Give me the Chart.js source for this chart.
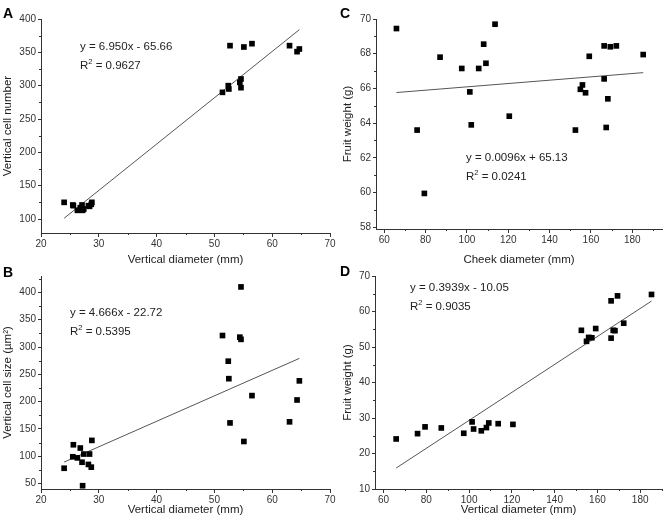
<!DOCTYPE html>
<html>
<head>
<meta charset="utf-8">
<script src="https://cdn.jsdelivr.net/npm/chart.js@4.4.0/dist/chart.umd.min.js"></script>
<style>
  body { margin: 0; background: #fff; width: 666px; height: 526px; position: relative; overflow: hidden;
         font-family: "Liberation Sans", Arial, sans-serif; color: #222; }
  .panel { position: absolute; }
  .letter { position: absolute; font-weight: bold; font-size: 14px; line-height: 14px; color: #000; }
  .eq { position: absolute; font-size: 11.5px; line-height: 15px; white-space: nowrap; color: #222; }
</style>
</head>
<body>
<div class="panel" style="left:0;top:0;width:345px;height:270px"><canvas id="chartA"></canvas></div>
<div class="panel" style="left:333px;top:0;width:333px;height:270px"><canvas id="chartC"></canvas></div>
<div class="panel" style="left:0;top:263px;width:345px;height:263px"><canvas id="chartB"></canvas></div>
<div class="panel" style="left:333px;top:263px;width:333px;height:263px"><canvas id="chartD"></canvas></div>

<div class="letter" style="left:3px;top:6px">A</div>
<div class="letter" style="left:340px;top:6px">C</div>
<div class="letter" style="left:3px;top:265px">B</div>
<div class="letter" style="left:340px;top:264px">D</div>

<div class="eq" id="eqA" style="left:80px;top:39px"></div>
<div class="eq" id="eqB" style="left:70px;top:305px"></div>
<div class="eq" id="eqC" style="left:466px;top:150px"></div>
<div class="eq" id="eqD" style="left:410px;top:280px"></div>

<script>
// ---- data ----
// A and B share the vertical diameter values
const vertDiam = [24.0, 25.5, 25.6, 26.3, 26.8, 27.1, 27.2, 27.4, 28.2, 28.4, 28.7, 28.8,
                  51.4, 52.4, 52.5, 52.7, 54.4, 54.6, 54.6, 55.1, 56.5, 63.0, 64.3, 64.7];
const cellNumber = [125, 121, 120, 113, 117, 121, 113, 115, 120, 119, 122, 125,
                    290, 300, 295, 360, 305, 310, 297, 358, 363, 360, 351, 355];
const cellSize = [78, 99, 121, 97, 115, 89, 46, 104, 85, 104, 80, 129,
                  321, 274, 242, 161, 318, 314, 410, 127, 211, 163, 203, 238];

// C and D share the cheek diameter values
const cheekDiam = [65.9, 75.9, 79.4, 87.0, 97.5, 101.4, 102.1, 105.7, 108.1, 109.2, 113.6, 120.5,
                   152.5, 154.9, 155.9, 157.4, 159.2, 166.4, 166.4, 167.4, 168.2, 169.4, 172.3, 185.3];
const fruitWeightC = [69.45, 63.6, 59.95, 67.8, 67.15, 65.8, 63.9, 67.15, 68.55, 67.45, 69.7, 64.4,
                      63.6, 65.95, 66.2, 65.75, 67.85, 66.55, 68.45, 63.75, 65.4, 68.4, 68.45, 67.95];
const fruitWeightD = [24.1, 25.6, 27.5, 27.2, 25.7, 28.9, 26.9, 26.4, 27.3, 28.6, 28.4, 28.2,
                      54.7, 51.6, 52.7, 52.6, 55.2, 52.5, 63.0, 54.7, 54.6, 64.4, 56.7, 64.8];

// linear fits printed on each panel (A, B, C, D)
const fitSlope = [6.950, 4.666, 0.0096, 0.3939];
const fitIntercept = [-65.66, -22.72, 65.13, -10.05];
const fitText = ['y = 6.950x - 65.66', 'y = 4.666x - 22.72', 'y = 0.0096x + 65.13', 'y = 0.3939x - 10.05'];
const r2Text = ['0.9627', '0.5395', '0.0241', '0.9035'];

// tick labels
const ticksXab = [20, 30, 40, 50, 60, 70];
const minorXab = [25, 35, 45, 55, 65];
const ticksYa = [100, 150, 200, 250, 300, 350, 400];
const minorYa = [125, 175, 225, 275, 325, 375];
const ticksYb = [50, 100, 150, 200, 250, 300, 350, 400];
const minorYb = [75, 125, 175, 225, 275, 325, 375, 425];
const ticksXcd = [60, 80, 100, 120, 140, 160, 180];
const minorXcd = [70, 90, 110, 130, 150, 170, 190];
const ticksYc = [58, 60, 62, 64, 66, 68, 70];
const minorYc = [59, 61, 63, 65, 67, 69];
const ticksYd = [10, 20, 30, 40, 50, 60, 70];
const minorYd = [15, 25, 35, 45, 55, 65];

const FONT = '"Liberation Sans", Arial, sans-serif';
Chart.defaults.font.family = FONT;

// small outward minor ticks like the Origin axes
const minorTicks = {
  id: 'minorTicks',
  afterDraw(chart, args, opts) {
    const { ctx, chartArea, scales } = chart;
    ctx.save();
    ctx.strokeStyle = '#333';
    ctx.lineWidth = 1;
    ctx.beginPath();
    opts.x.forEach(v => {
      const px = Math.round(scales.x.getPixelForValue(v)) + 0.5;
      if (px > chartArea.right + 1) return;
      ctx.moveTo(px, chartArea.bottom);
      ctx.lineTo(px, chartArea.bottom + 2);
    });
    opts.y.forEach(v => {
      const py = Math.round(scales.y.getPixelForValue(v)) + 0.5;
      if (py < chartArea.top - 1) return;
      ctx.moveTo(chartArea.left, py);
      ctx.lineTo(chartArea.left - 2, py);
    });
    ctx.stroke();
    ctx.restore();
  }
};

function makePanel(id, p) {
  const pts = p.xs.map((v, i) => ({ x: v, y: p.ys[i] }));
  const x0 = Math.min(...p.xs), x1 = Math.max(...p.xs);
  const fit = [{ x: x0, y: p.slope * x0 + p.icpt }, { x: x1, y: p.slope * x1 + p.icpt }];

  new Chart(document.getElementById(id), {
    type: 'scatter',
    data: {
      datasets: [
        { data: pts, pointStyle: 'rect', pointRadius: 4, backgroundColor: '#000', borderColor: '#000', borderWidth: 0 },
        { type: 'line', data: fit, borderColor: '#555', borderWidth: 1, pointRadius: 0, fill: false }
      ]
    },
    options: {
      responsive: true,
      maintainAspectRatio: false,
      animation: false,
      layout: { padding: p.pad },
      plugins: { legend: { display: false }, tooltip: { enabled: false }, minorTicks: { x: p.minorX, y: p.minorY } },
      scales: {
        x: {
          type: 'linear', min: p.xMin, max: p.xMax,
          afterBuildTicks: s => { s.ticks = p.ticksX.map(v => ({ value: v })); },
          afterFit: s => { s.height = p.xH; s.paddingLeft = 0; s.paddingRight = 0; },
          grid: { drawOnChartArea: false, drawTicks: true, tickLength: 4, color: '#333' },
          border: { display: true, color: '#333', width: 1 },
          ticks: { color: '#333', font: { size: 10 }, padding: 1, maxRotation: 0, autoSkip: false },
          title: { display: true, text: p.xTitle, color: '#222', font: { size: 11.5 }, padding: { top: 0, bottom: p.xTitlePad } }
        },
        y: {
          type: 'linear', min: p.yMin, max: p.yMax,
          afterBuildTicks: s => { s.ticks = p.ticksY.map(v => ({ value: v })); },
          afterFit: s => { s.width = p.yW; s.paddingTop = 0; s.paddingBottom = 0; },
          grid: { drawOnChartArea: false, drawTicks: true, tickLength: 3, color: '#333' },
          border: { display: true, color: '#333', width: 1 },
          ticks: { color: '#333', font: { size: 10 }, padding: 2, autoSkip: false },
          title: { display: true, text: p.yTitle, color: '#222', font: { size: 11.5 }, padding: { top: p.yTitlePad, bottom: 0 } }
        }
      }
    },
    plugins: [minorTicks]
  });
}

makePanel('chartA', {
  xs: vertDiam, ys: cellNumber, slope: fitSlope[0], icpt: fitIntercept[0],
  xMin: 20, xMax: 70, yMin: 79, yMax: 400,
  ticksX: ticksXab, minorX: minorXab, ticksY: ticksYa, minorY: minorYa,
  xTitle: 'Vertical diameter (mm)', yTitle: 'Vertical cell number',
  pad: { left: 0, top: 19, right: 15, bottom: 0 }, yW: 41, xH: 37, xTitlePad: 3, yTitlePad: 1
});
makePanel('chartB', {
  xs: vertDiam, ys: cellSize, slope: fitSlope[1], icpt: fitIntercept[1],
  xMin: 20, xMax: 70, yMin: 40, yMax: 430,
  ticksX: ticksXab, minorX: minorXab, ticksY: ticksYb, minorY: minorYb,
  xTitle: 'Vertical diameter (mm)', yTitle: 'Vertical cell size (\u00b5m\u00b2)',
  pad: { left: 0, top: 13, right: 15, bottom: 0 }, yW: 41, xH: 37, xTitlePad: 9, yTitlePad: 1
});
makePanel('chartC', {
  xs: cheekDiam, ys: fruitWeightC, slope: fitSlope[2], icpt: fitIntercept[2],
  xMin: 56, xMax: 194.4, yMin: 57.9, yMax: 70,
  ticksX: ticksXcd, minorX: minorXcd, ticksY: ticksYc, minorY: minorYc,
  xTitle: 'Cheek diameter (mm)', yTitle: 'Fruit weight (g)',
  pad: { left: 0, top: 19, right: 1, bottom: 0 }, yW: 43, xH: 41, xTitlePad: 3, yTitlePad: 8
});
makePanel('chartD', {
  xs: cheekDiam, ys: fruitWeightD, slope: fitSlope[3], icpt: fitIntercept[3],
  xMin: 56, xMax: 190.2, yMin: 10, yMax: 70,
  ticksX: ticksXcd, minorX: minorXcd, ticksY: ticksYd, minorY: minorYd,
  xTitle: 'Vertical diameter (mm)', yTitle: 'Fruit weight (g)',
  pad: { left: 0, top: 13, right: 1, bottom: 0 }, yW: 42, xH: 37, xTitlePad: 9, yTitlePad: 8
});

['A', 'B', 'C', 'D'].forEach((k, i) => {
  document.getElementById('eq' + k).innerHTML = fitText[i] + '<br>R<sup style="font-size:7.5px">2</sup> = ' + r2Text[i];
});
</script>
</body>
</html>
